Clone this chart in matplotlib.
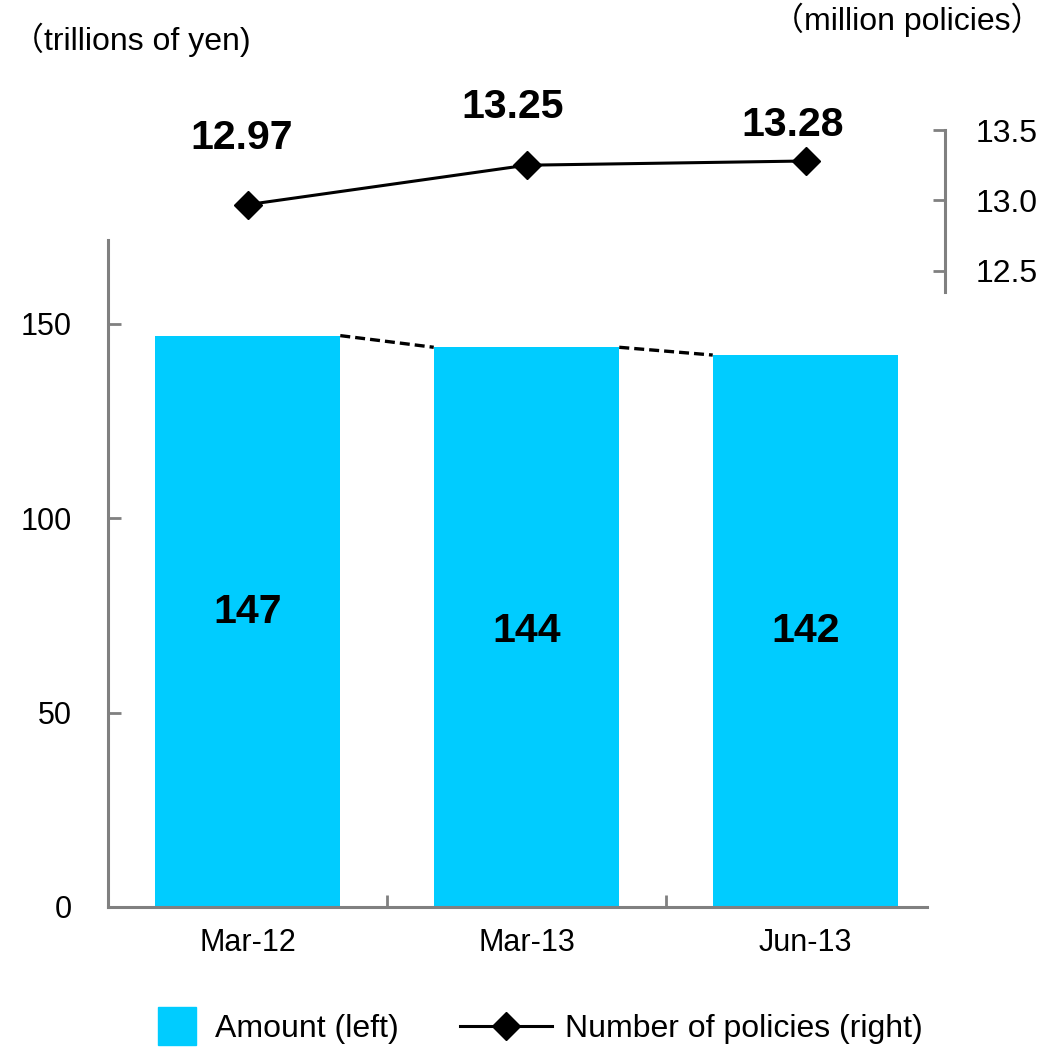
import matplotlib
matplotlib.use('Agg')
import matplotlib.pyplot as plt
from matplotlib.lines import Line2D

plt.rcParams['font.family'] = ['Liberation Sans', 'Noto Sans CJK JP', 'DejaVu Sans']

# data
periods = ['Mar-12', 'Mar-13', 'Jun-13']
amount = [147, 144, 142]            # trillions of yen (left)
policies = [12.97, 13.25, 13.28]    # million policies (right)
amount_label_y = [76, 71, 71]
policy_label_offset = [(-4, 48), (-10, 42), (-9, 26)]

bar_color = '#00CCFF'
spine_gray = '#808080'
bar_w = 0.665

fig = plt.figure(figsize=(10.55, 10.5), dpi=100)

# bar chart (left axis)
ax = fig.add_axes([108 / 1055, 143 / 1050, 837 / 1055, 667 / 1050])
x = list(range(len(periods)))
ax.bar(x, amount, width=bar_w, color=bar_color, zorder=2)
for i, v in enumerate(amount):
    ax.text(i, amount_label_y[i], str(v), ha='center', va='center',
            fontsize=29.5, fontweight='bold', zorder=3)
# dashed connectors between bar tops
for i in range(len(amount) - 1):
    ax.plot([i + bar_w / 2, i + 1 - bar_w / 2], [amount[i], amount[i + 1]],
            color='black', linestyle=(0, (3, 1.5)), linewidth=2.4, zorder=3)

ax.set_xlim(-0.5, len(periods) - 0.5)
ax.set_ylim(0, 171.6)
ax.set_yticks([0, 50, 100, 150])
ax.set_xticks([0.5, 1.5])
ax.set_xticklabels([])
ax.set_xticks(x, minor=True)
ax.set_xticklabels(periods, minor=True, fontsize=22)
ax.tick_params(axis='x', which='minor', length=0, pad=15)
ax.tick_params(axis='x', which='major', direction='in', length=9, width=2, color=spine_gray)
ax.tick_params(axis='y', direction='in', length=9, width=2, color=spine_gray,
               labelsize=22, pad=26)
for s in ['top', 'right']:
    ax.spines[s].set_visible(False)
for s in ['left', 'bottom']:
    ax.spines[s].set_color(spine_gray)
    ax.spines[s].set_linewidth(2.2)
ax.spines['bottom'].set_bounds(-0.5, 2.435)

# line chart (right axis)
ax2 = fig.add_axes([108 / 1055, 758 / 1050, 837 / 1055, 162 / 1050])
ax2.patch.set_visible(False)
ax2.plot(x, policies, color='black', linewidth=2.2, marker='D', markersize=14,
         clip_on=False)
for i, v in enumerate(policies):
    ax2.annotate(f'{v:.2f}', (i, v), xytext=policy_label_offset[i],
                 textcoords='offset points', ha='center', va='center',
                 fontsize=29.5, fontweight='bold', annotation_clip=False)
ax2.set_xlim(-0.5, len(periods) - 0.5)
ax2.set_ylim(12.35, 13.5)
ax2.set_yticks([12.5, 13.0, 13.5])
ax2.set_yticklabels(['12.5', '13.0', '13.5'])
ax2.yaxis.tick_right()
ax2.set_xticks([])
ax2.tick_params(axis='y', direction='in', length=9, width=2, color=spine_gray,
                labelsize=23, pad=22)
for s in ['top', 'left', 'bottom']:
    ax2.spines[s].set_visible(False)
ax2.spines['right'].set_color(spine_gray)
ax2.spines['right'].set_linewidth(2.2)

# axis unit captions
fig.text(12 / 1055, 1 - 40 / 1050, '（trillions of yen)', fontsize=23,
         ha='left', va='center')
fig.text(1042 / 1055, 1 - 20 / 1050, '（million policies）', fontsize=23,
         ha='right', va='center')

# legend
h1 = Line2D([], [], linestyle='none', marker='s', markersize=27,
            markerfacecolor=bar_color, markeredgecolor=bar_color)
h2 = Line2D([], [], color='black', linewidth=2.2, marker='D', markersize=14)
fig.legend([h1], ['Amount (left)'], loc='center left',
           bbox_to_anchor=(124 / 1055, 1 - 1029 / 1050), frameon=False,
           fontsize=23, handlelength=1.5, handletextpad=0.45)
fig.legend([h2], ['Number of policies (right)'], loc='center left',
           bbox_to_anchor=(431 / 1055, 1 - 1029 / 1050), frameon=False,
           fontsize=23, handlelength=2.9, handletextpad=0.4)

fig.savefig('out.png', dpi=100)
